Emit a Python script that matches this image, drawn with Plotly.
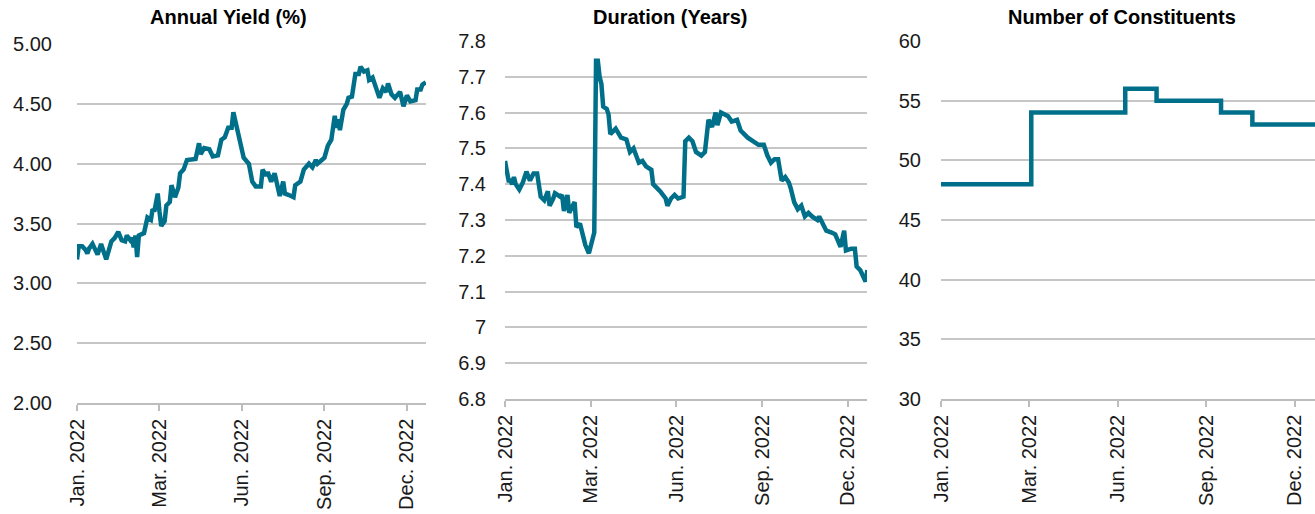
"""
charts/index_characteristics.py
Tiga panel karakteristik indeks — yield, durasi, jumlah konstituen.
"""

import plotly.graph_objects as go

LINE_COLOR = '#00708A'
GRID_COLOR = '#C6C6C6'
FONT = 'Arial, Liberation Sans, sans-serif'

# ── Data ─────────────────────────────────────────────────────────────────────
TICK_POS = [0, 48, 96, 144, 192]
TICK_TEXT = ['Jan. 2022', 'Mar. 2022', 'Jun. 2022', 'Sep. 2022', 'Dec. 2022']

YIELD_X = [0, 1, 3, 5, 6, 7, 9, 12, 14, 16,
           17, 20, 22, 24, 26, 28, 29, 31, 32, 33,
           34, 35, 36, 39, 41, 43, 44, 45, 47, 48,
           49, 51, 52, 54, 55, 57, 59, 60, 62, 64,
           69, 71, 72, 74, 77, 79, 82, 84, 86, 88,
           90, 91, 93, 95, 97, 100, 102, 104, 107, 108,
           110, 111, 113, 115, 118, 120, 121, 123, 126, 127,
           130, 132, 135, 137, 139, 140, 142, 144, 146, 148,
           150, 151, 152, 153, 155, 157, 158, 160, 162, 164,
           165, 167, 169, 170, 172, 173, 176, 178, 180, 181,
           183, 185, 188, 190, 192, 194, 197, 198, 200, 201,
           203]
YIELD_Y = [3.20, 3.31, 3.31, 3.28, 3.25, 3.29, 3.33, 3.24, 3.33, 3.25,
           3.20, 3.35, 3.38, 3.43, 3.36, 3.35, 3.40, 3.36, 3.38, 3.30,
           3.40, 3.22, 3.40, 3.42, 3.55, 3.53, 3.62, 3.60, 3.75, 3.60,
           3.48, 3.52, 3.65, 3.68, 3.82, 3.72, 3.80, 3.92, 3.95, 4.03,
           4.04, 4.17, 4.08, 4.13, 4.12, 4.06, 4.07, 4.20, 4.22, 4.30,
           4.30, 4.43, 4.30, 4.15, 4.05, 4.00, 3.85, 3.81, 3.81, 3.95,
           3.90, 3.93, 3.85, 3.92, 3.73, 3.85, 3.75, 3.74, 3.72, 3.82,
           3.85, 3.95, 4.00, 3.97, 4.03, 4.00, 4.03, 4.05, 4.15, 4.20,
           4.40, 4.30, 4.37, 4.28, 4.45, 4.50, 4.55, 4.56, 4.75, 4.75,
           4.81, 4.77, 4.78, 4.70, 4.72, 4.67, 4.55, 4.63, 4.60, 4.67,
           4.58, 4.55, 4.60, 4.48, 4.57, 4.52, 4.53, 4.62, 4.62, 4.66,
           4.68]

DURATION_X = [0, 1, 2, 3, 4, 5, 6, 8, 10, 12,
              14, 16, 18, 20, 22, 24, 25, 27, 28, 31,
              32, 33, 35, 36, 39, 40, 42, 44, 45, 47,
              49, 50, 51, 52, 53, 54, 55, 57, 58, 59,
              62, 65, 68, 70, 72, 75, 77, 79, 82, 83,
              87, 90, 91, 93, 95, 97, 100, 101, 103, 105,
              107, 110, 112, 114, 116, 118, 119, 121, 125, 127,
              130, 132, 136, 139, 142, 145, 147, 149, 151, 153,
              155, 157, 159, 160, 162, 164, 166, 168, 170, 172,
              175, 176, 180, 183, 185, 188, 190, 191, 194, 196,
              197, 199, 202, 203]
DURATION_Y = [7.465, 7.43, 7.41, 7.41, 7.40, 7.42, 7.40, 7.385, 7.405, 7.435,
              7.41, 7.43, 7.43, 7.365, 7.355, 7.38, 7.34, 7.36, 7.375, 7.365,
              7.37, 7.325, 7.37, 7.32, 7.35, 7.28, 7.29, 7.25, 7.23, 7.207,
              7.245, 7.265, 7.745, 7.745, 7.70, 7.68, 7.617, 7.61, 7.595, 7.54,
              7.555, 7.53, 7.525, 7.49, 7.50, 7.46, 7.465, 7.45, 7.44, 7.40,
              7.38, 7.36, 7.34, 7.36, 7.37, 7.36, 7.365, 7.52, 7.53, 7.52,
              7.49, 7.48, 7.49, 7.58, 7.56, 7.60, 7.565, 7.60, 7.59, 7.575,
              7.58, 7.55, 7.53, 7.52, 7.51, 7.51, 7.48, 7.46, 7.47, 7.47,
              7.41, 7.42, 7.405, 7.39, 7.35, 7.33, 7.34, 7.31, 7.32, 7.31,
              7.30, 7.31, 7.27, 7.265, 7.26, 7.225, 7.27, 7.215, 7.22, 7.22,
              7.17, 7.16, 7.128, 7.16]

CONST_X = [0, 49, 100, 117, 152, 169, 203]
CONST_Y = [48, 54, 56, 55, 54, 53, 53]

YIELD_TICKS = [2.0, 2.5, 3.0, 3.5, 4.0, 4.5, 5.0]
YIELD_TICK_TEXT = ['2.00', '2.50', '3.00', '3.50', '4.00', '4.50', '5.00']
DURATION_TICKS = [6.8, 6.9, 7.0, 7.1, 7.2, 7.3, 7.4, 7.5, 7.6, 7.7, 7.8]
DURATION_TICK_TEXT = ['6.8', '6.9', '7', '7.1', '7.2', '7.3', '7.4', '7.5', '7.6', '7.7', '7.8']
CONST_TICKS = [30, 35, 40, 45, 50, 55, 60]

W, H = 1315, 514


def _xaxis(left, right, x_max):
    """Sumbu waktu — label diputar vertikal."""
    return dict(
        domain=[left / W, right / W], range=[0, x_max], automargin=False,
        tickmode='array', tickvals=TICK_POS, ticktext=TICK_TEXT, tickangle=-90,
        showgrid=False, zeroline=False,
        showline=True, linecolor='#BDBDBD', linewidth=1.5,
        ticks='outside', ticklen=6, tickcolor='#BDBDBD', tickwidth=1.5,
        tickfont=dict(family=FONT, size=20, color='#1A1A1A'),
    )


def _yaxis(top, bottom, rng, vals, text, standoff):
    """Sumbu nilai dengan grid horizontal."""
    return dict(
        domain=[1 - bottom / H, 1 - top / H], range=rng, automargin=False,
        tickmode='array', tickvals=vals, ticktext=text,
        showgrid=True, gridcolor=GRID_COLOR, gridwidth=1.5,
        zeroline=False, showline=False, ticks='',
        ticklabelstandoff=standoff,
        tickfont=dict(family=FONT, size=20, color='#1A1A1A'),
    )


def _title(text, x_px):
    """Judul panel (bold) di atas area plot."""
    return dict(
        text=f'<b>{text}</b>', x=x_px / W, y=1 - 17 / H,
        xref='paper', yref='paper', xanchor='center', yanchor='middle',
        showarrow=False, font=dict(family=FONT, size=20, color='#000000'),
    )


fig = go.Figure()
fig.add_trace(go.Scatter(
    x=YIELD_X, y=YIELD_Y, mode='lines', xaxis='x', yaxis='y',
    line=dict(color=LINE_COLOR, width=4.5),
))
fig.add_trace(go.Scatter(
    x=DURATION_X, y=DURATION_Y, mode='lines', xaxis='x2', yaxis='y2',
    line=dict(color=LINE_COLOR, width=4.5),
))
fig.add_trace(go.Scatter(
    x=CONST_X, y=CONST_Y, mode='lines', xaxis='x3', yaxis='y3',
    line=dict(color=LINE_COLOR, width=4.5, shape='hv'),
))

fig.update_layout(
    width=W, height=H,
    margin=dict(l=0, r=0, t=0, b=0),
    paper_bgcolor='white', plot_bgcolor='white',
    showlegend=False,
    xaxis=_xaxis(77, 426, 203.1),
    xaxis2=dict(_xaxis(505, 867, 202.8), anchor='y2'),
    xaxis3=dict(_xaxis(941, 1315, 203.0), anchor='y3'),
    yaxis=_yaxis(44, 403, [2.0, 5.0], YIELD_TICKS, YIELD_TICK_TEXT, 24),
    yaxis2=dict(_yaxis(41, 399, [6.8, 7.8], DURATION_TICKS, DURATION_TICK_TEXT, 18), anchor='x2'),
    yaxis3=dict(_yaxis(41, 399, [30, 60], CONST_TICKS, [str(v) for v in CONST_TICKS], 19), anchor='x3'),
    annotations=[
        _title('Annual Yield (%)', 228),
        _title('Duration (Years)', 670),
        _title('Number of Constituents', 1122),
    ],
)

# body margin bawaan browser dihapus supaya figur pas di jendela
fig.write_html('out.html', config={'displayModeBar': False},
               post_script="document.body.style.margin = '0';")
